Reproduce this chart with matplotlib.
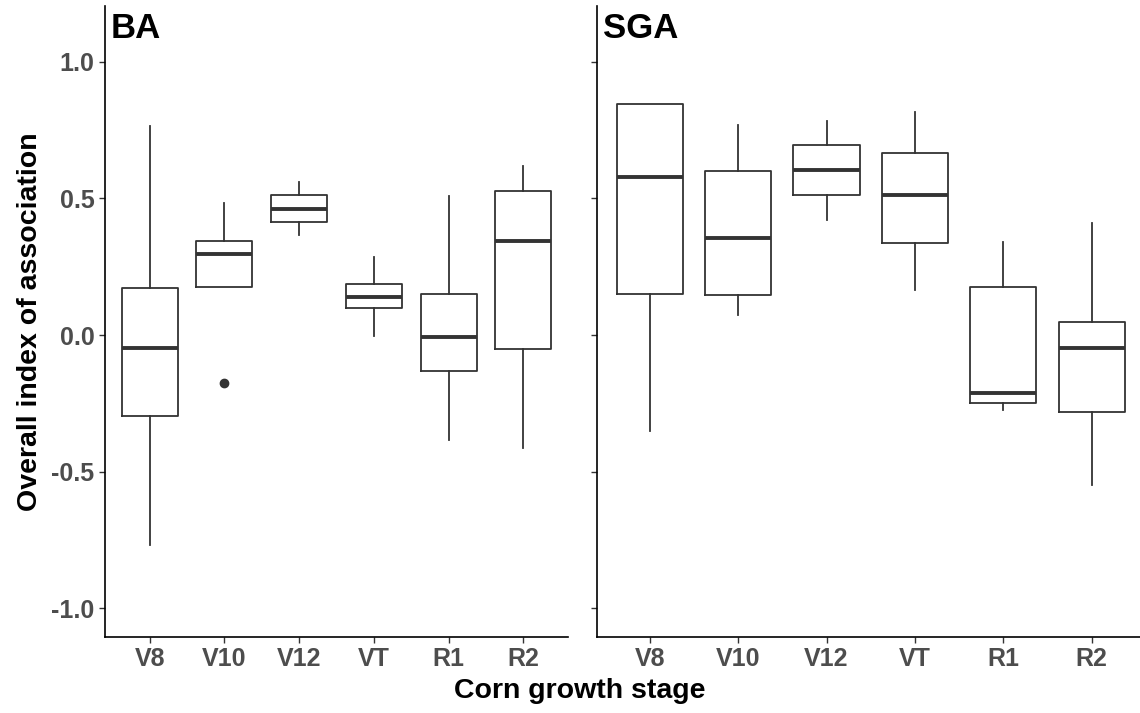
import matplotlib
matplotlib.use("Agg")
import matplotlib.pyplot as plt

plt.rcParams['font.family'] = ['Liberation Sans', 'DejaVu Sans']

stages = ["V8", "V10", "V12", "VT", "R1", "R2"]

# BA panel box statistics
ba_whislo = [-0.768, 0.177, 0.365, -0.002, -0.384, -0.413]
ba_q1 = [-0.295, 0.177, 0.413, 0.098, -0.131, -0.051]
ba_med = [-0.048, 0.296, 0.463, 0.141, -0.007, 0.346]
ba_q3 = [0.173, 0.344, 0.512, 0.185, 0.152, 0.528]
ba_whishi = [0.767, 0.483, 0.561, 0.284, 0.508, 0.618]
ba_fliers = [[], [-0.174], [], [], [], []]

# SGA panel box statistics
sga_whislo = [-0.352, 0.074, 0.421, 0.164, -0.275, -0.551]
sga_q1 = [0.152, 0.146, 0.511, 0.337, -0.248, -0.282]
sga_med = [0.580, 0.357, 0.603, 0.513, -0.211, -0.049]
sga_q3 = [0.845, 0.600, 0.695, 0.666, 0.177, 0.046]
sga_whishi = [0.845, 0.769, 0.784, 0.816, 0.342, 0.410]
sga_fliers = [[], [], [], [], [], []]

yticks = [-1.0, -0.5, 0.0, 0.5, 1.0]


def make_stats(lo, q1, med, q3, hi, fl):
    out = []
    for i in range(len(stages)):
        out.append(dict(whislo=lo[i], q1=q1[i], med=med[i], q3=q3[i],
                        whishi=hi[i], fliers=fl[i], label=stages[i]))
    return out


def draw_panel(ax, stats, title, show_labels):
    line = '#333333'
    ax.bxp(stats, positions=range(1, len(stages) + 1), widths=0.75,
           showcaps=False,
           boxprops=dict(color=line, linewidth=1.3),
           whiskerprops=dict(color=line, linewidth=1.3),
           medianprops=dict(color=line, linewidth=2.8),
           flierprops=dict(marker='o', markerfacecolor=line,
                           markeredgecolor=line, markersize=6))
    ax.set_xlim(0.4, 6.6)
    ax.set_ylim(-1.105, 1.205)
    ax.set_yticks(yticks)
    ax.spines['top'].set_visible(False)
    ax.spines['right'].set_visible(False)
    for s in ['left', 'bottom']:
        ax.spines[s].set_linewidth(1.2)
        ax.spines[s].set_color('black')
    ax.tick_params(length=4, width=1.0, color='#333333', labelcolor='#4D4D4D',
                   labelsize=18)
    for t in ax.get_xticklabels() + ax.get_yticklabels():
        t.set_fontweight('bold')
    if show_labels:
        ax.set_yticklabels([f"{v:.1f}" for v in yticks], fontweight='bold')
    else:
        ax.set_yticklabels([])
    ax.text(0.012, 0.99, title, transform=ax.transAxes, ha='left', va='top',
            fontsize=25, fontweight='bold', color='black')


fig = plt.figure(figsize=(11.4, 7.13), dpi=100)
ax1 = fig.add_axes([105 / 1140, 1 - 636.7 / 713, 463 / 1140, 630.7 / 713])
ax2 = fig.add_axes([596.7 / 1140, 1 - 636.7 / 713, 548 / 1140, 630.7 / 713])

draw_panel(ax1, make_stats(ba_whislo, ba_q1, ba_med, ba_q3, ba_whishi, ba_fliers), "BA", True)
draw_panel(ax2, make_stats(sga_whislo, sga_q1, sga_med, sga_q3, sga_whishi, sga_fliers), "SGA", False)

ax1.set_ylabel("Overall index of association", fontsize=20.5, fontweight='bold', labelpad=6)
fig.text(580 / 1140, 1 - 691 / 713, "Corn growth stage", ha='center', va='center',
         fontsize=20.5, fontweight='bold')

fig.savefig("out.png", dpi=100)
